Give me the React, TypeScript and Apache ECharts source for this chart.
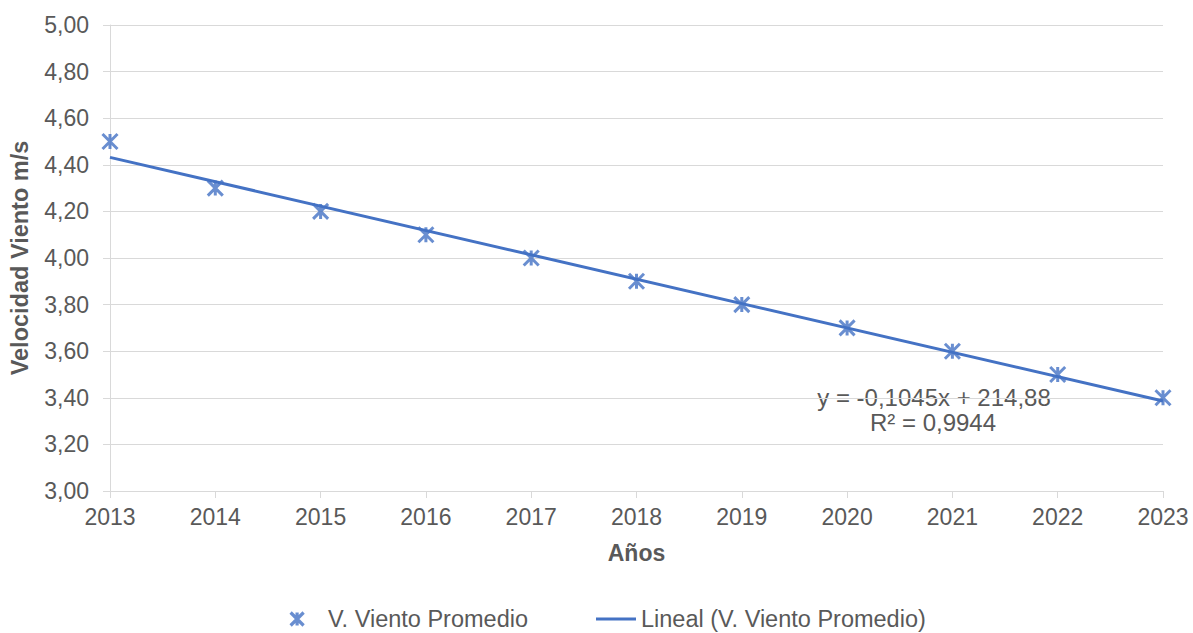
import React, { useEffect, useRef } from "react";
import * as echarts from "echarts";

const years = [2013, 2014, 2015, 2016, 2017, 2018, 2019, 2020, 2021, 2022, 2023];
const speeds = [4.5, 4.3, 4.2, 4.1, 4.0, 3.9, 3.8, 3.7, 3.6, 3.5, 3.4];
const yMin = 3.0;
const yMax = 5.0;
const yStep = 0.2;
const xMin = 2013;
const xMax = 2023;
const seriesName = "V. Viento Promedio";
const trendName = "Lineal (V. Viento Promedio)";
const xTitle = "Años";
const yTitle = "Velocidad Viento m/s";
const equationText = "y = -0,1045x + 214,88";
const r2Text = "R² = 0,9944";

const BLUE = "#4472C4";
const TEXT = "#595959";
const GRID = "#D9D9D9";
const FONT = "'Liberation Sans', Arial, sans-serif";
const ASTERISK = "path://M0,0L10,10M10,0L0,10M5,0L5,10";

function regression(xs: number[], ys: number[]) {
  const n = xs.length;
  const mx = xs.reduce((a, b) => a + b, 0) / n;
  const my = ys.reduce((a, b) => a + b, 0) / n;
  let sxy = 0;
  let sxx = 0;
  for (let i = 0; i < n; i++) {
    sxy += (xs[i] - mx) * (ys[i] - my);
    sxx += (xs[i] - mx) * (xs[i] - mx);
  }
  const slope = sxy / sxx;
  const intercept = my - slope * mx;
  return { slope, intercept };
}

export default function App() {
  const ref = useRef<HTMLDivElement>(null);

  useEffect(() => {
    document.body.style.margin = "0";
    if (!ref.current) return;
    const chart = echarts.init(ref.current, undefined, { renderer: "svg" });
    const { slope, intercept } = regression(years, speeds);
    const trend = [xMin, xMax].map((x) => [x, intercept + slope * x]);

    chart.setOption({
      animation: false,
      backgroundColor: "#ffffff",
      textStyle: { fontFamily: FONT },
      grid: { left: 108, right: 30, top: 25, bottom: 142, containLabel: false },
      xAxis: {
        type: "value",
        min: xMin,
        max: xMax,
        interval: 1,
        name: xTitle,
        nameLocation: "middle",
        nameGap: 50,
        nameTextStyle: { color: TEXT, fontSize: 23, fontWeight: "bold", fontFamily: FONT },
        axisLine: { show: true, lineStyle: { color: GRID, width: 1 } },
        axisTick: { show: true, length: 7, lineStyle: { color: GRID } },
        splitLine: { show: false },
        axisLabel: {
          color: TEXT,
          fontSize: 23,
          fontFamily: FONT,
          margin: 14,
          formatter: (v: number) => String(v),
        },
      },
      yAxis: {
        type: "value",
        min: yMin,
        max: yMax,
        interval: yStep,
        name: yTitle,
        nameLocation: "middle",
        nameGap: 78,
        nameRotate: 90,
        nameTextStyle: { color: TEXT, fontSize: 23.5, fontWeight: "bold", fontFamily: FONT },
        axisLine: { show: true, lineStyle: { color: GRID, width: 1 } },
        axisTick: { show: true, length: 7, lineStyle: { color: GRID } },
        splitLine: { show: true, lineStyle: { color: GRID, width: 1 } },
        axisLabel: {
          color: TEXT,
          fontSize: 23,
          fontFamily: FONT,
          margin: 21,
          formatter: (v: number) => v.toFixed(2).replace(".", ","),
        },
      },
      legend: [
        {
          left: 289,
          top: 607,
          padding: 0,
          itemWidth: 52,
          itemHeight: 13,
          textStyle: { color: TEXT, fontSize: 23.5, fontFamily: FONT },
          data: [
            {
              name: seriesName,
              icon: ASTERISK,
              itemStyle: { color: BLUE, borderColor: BLUE, borderWidth: 3.2 },
            },
          ],
        },
        {
          left: 596,
          top: 607,
          padding: 0,
          itemWidth: 40,
          itemHeight: 3,
          textStyle: { color: TEXT, fontSize: 23.5, fontFamily: FONT },
          data: [{ name: trendName, icon: "rect" }],
        },
      ],
      series: [
        {
          name: trendName,
          type: "line",
          data: trend,
          showSymbol: false,
          symbol: "none",
          lineStyle: { color: BLUE, width: 3 },
          itemStyle: { color: BLUE },
          z: 2,
        },
        {
          name: seriesName,
          type: "scatter",
          data: years.map((y, i) => [y, speeds[i]]),
          symbol: ASTERISK,
          symbolSize: 15,
          itemStyle: { color: BLUE, borderColor: BLUE, borderWidth: 3 },
          z: 3,
        },
      ],
      graphic: [
        {
          type: "text",
          x: 934,
          y: 397,
          style: {
            text: equationText,
            fill: TEXT,
            font: `24px ${FONT}`,
            textAlign: "center",
            textVerticalAlign: "middle",
          },
        },
        {
          type: "text",
          x: 933,
          y: 422,
          style: {
            text: r2Text,
            fill: TEXT,
            font: `24px ${FONT}`,
            textAlign: "center",
            textVerticalAlign: "middle",
          },
        },
      ],
    });

    return () => chart.dispose();
  }, []);

  return <div ref={ref} style={{ width: 1193, height: 633 }} />;
}
